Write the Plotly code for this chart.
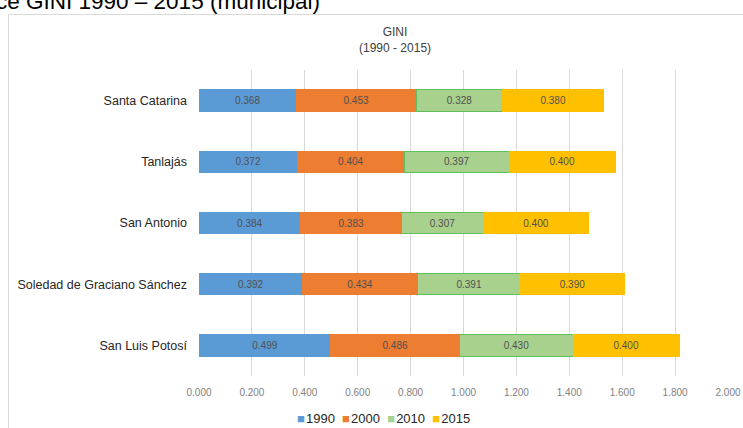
import plotly.graph_objects as go

categories = ["Santa Catarina", "Tanlajás", "San Antonio", "Soledad de Graciano Sánchez", "San Luis Potosí"]
years = ["1990", "2000", "2010", "2015"]
v1990 = [0.368, 0.372, 0.384, 0.392, 0.499]
v2000 = [0.453, 0.404, 0.383, 0.434, 0.486]
v2010 = [0.328, 0.397, 0.307, 0.391, 0.430]
v2015 = [0.380, 0.400, 0.400, 0.390, 0.400]
series = [v1990, v2000, v2010, v2015]
x_ticks = [0.0, 0.2, 0.4, 0.6, 0.8, 1.0, 1.2, 1.4, 1.6, 1.8, 2.0]

fills = ["#5B9BD5", "#ED7D31", "#A9D18E", "#FFC000"]
edges = ["#5B9BD5", "#ED7D31", "#5FBF5F", "#FFC000"]

W, H = 743, 428
L, R, T, B = 199, 15, 70, 52
pw, ph = W - L - R, H - T - B

def px(x):
    return (x - L) / pw

def py(y):
    return (H - B - y) / ph

fig = go.Figure()
for name, vals, fc, ec in zip(years, series, fills, edges):
    fig.add_trace(go.Bar(
        y=categories, x=vals, name=name, orientation="h",
        marker=dict(color=fc, line=dict(color=ec, width=1)),
        texttemplate="%{x:.3f}", textposition="inside",
        insidetextanchor="middle", constraintext="none",
        textfont=dict(family="Liberation Sans, Arial", size=10, color="#505050"),
        showlegend=False,
    ))

fig.update_layout(
    width=W, height=H,
    margin=dict(l=L, r=R, t=T, b=B, pad=0),
    barmode="stack", bargap=0.65,
    plot_bgcolor="white", paper_bgcolor="white",
    font=dict(family="Liberation Sans, Arial", color="#404040"),
    xaxis=dict(range=[0, 2.0], tickvals=x_ticks, tickformat=".3f", automargin=False,
               showgrid=True, gridcolor="#D9D9D9", gridwidth=1,
               zeroline=False, showline=False, ticks="",
               tickfont=dict(size=10, color="#7F7F7F"), ticklabelstandoff=9),
    yaxis=dict(categoryorder="array", categoryarray=categories, autorange="reversed",
               automargin=False,
               showgrid=False, zeroline=False, showline=False, ticks="",
               tickfont=dict(size=12.5, color="#262626"), ticklabelstandoff=11),
    showlegend=False,
)

fig.add_shape(type="rect", xref="paper", yref="paper",
              x0=px(8.5), x1=px(760), y0=py(440), y1=py(14.5),
              line=dict(color="#D9D9D9", width=1), fillcolor="rgba(0,0,0,0)", layer="below")

fig.add_annotation(xref="paper", yref="paper", x=px(395), y=py(40), xanchor="center", yanchor="middle",
                   text="GINI<br>(1990 - 2015)", showarrow=False,
                   font=dict(size=12, color="#404040"))

fig.add_annotation(xref="paper", yref="paper", x=px(-6), y=py(1.5), xanchor="left", yanchor="middle",
                   text="ce GINI 1990 – 2015 (municipal)", showarrow=False,
                   font=dict(size=22.5, color="#000000"))

legend_text = "&nbsp;&nbsp;".join(
    f"<span style='color:{c};font-size:13px'>■</span>&#8202;{y}" for y, c in zip(years, fills)
)
fig.add_annotation(xref="paper", yref="paper", x=px(383), y=py(418), xanchor="center", yanchor="middle",
                   text=legend_text, showarrow=False,
                   font=dict(size=13, color="#262626"))

fig.write_html("out.html", config={"displayModeBar": False},
               post_script="document.body.style.margin='0';document.body.style.padding='0';")
